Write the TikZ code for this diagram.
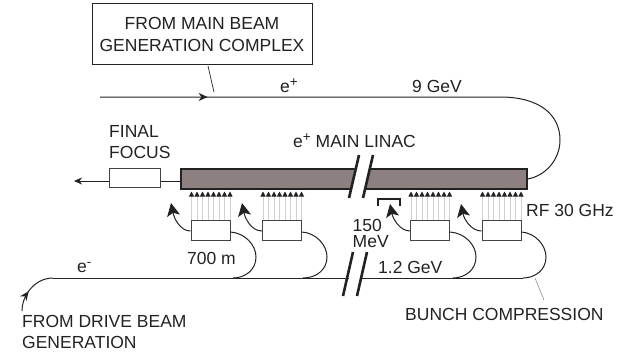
\documentclass[tikz,border=0pt]{standalone}
\usepackage{fontspec}
\setmainfont{Liberation Sans}
\usetikzlibrary{arrows.meta,decorations.markings}
\definecolor{ink}{HTML}{222222}
\definecolor{linac}{HTML}{8C8080}
\newcommand{\upmark}[1]{\raisebox{5.5pt}{\fontsize{13.5}{14}\selectfont #1}}
\tikzset{
  x=1pt,y=-1pt,
  every node/.style={text=ink,font=\fontsize{17.5}{22}\selectfont,inner sep=0pt},
  beam/.style={draw=ink,line width=1pt},
  thin leader/.style={draw=ink,line width=0.7pt},
  faint leader/.style={draw=gray,line width=0.5pt},
  boxed/.style={draw=ink!85,fill=white,line width=1pt,minimum height=20pt,minimum width=39pt},
  rf/.style={draw=black!18,line width=0.9pt,-{Triangle[length=5pt,width=5pt,ink]}},
  bend tip/.style={-{Stealth[length=13pt,width=13pt,inset=3pt,ink]},draw=ink,line width=1pt},
  slash/.style={draw=ink,line width=2.6pt},
  label/.style={anchor=base west,align=left},
}
\begin{document}
\begin{tikzpicture}
\useasboundingbox (0,0) rectangle (631,353);
% source box
\node[draw=ink,line width=1pt,fill=white,minimum width=220pt,minimum height=60pt,align=center] (src) at (202,34) {FROM MAIN BEAM\\GENERATION COMPLEX};
\coordinate (srcleadA) at (208,66);
\coordinate (srcleadB) at (214,92);
\draw[thin leader] (srcleadA) -- (srcleadB);
% linac
\node[draw=ink,fill=linac,line width=1.3pt,minimum width=346pt,minimum height=20pt] (linac) at (354,179) {};
% positron line
\coordinate (posA) at (100,97);
\coordinate (posB) at (500,97);
\coordinate (posC) at (560,140);
\draw[beam,postaction={decorate},decoration={markings,mark=at position 0.2 with {\arrow{Stealth[length=9pt,width=8pt,ink]}}}]
  (posA) -- (posB) .. controls (540,97) and (560,115) .. (posC) .. controls (560,160) and (545,176) .. (linac.east);
% final focus
\node[boxed,minimum width=51pt,minimum height=19pt] (ff) at (134.5,178) {};
\coordinate (ffout) at (74,181);
\draw[beam,-{Stealth[length=8pt,width=7pt,ink]}] (ff.west |- ffout) -- (ffout);
\draw[beam] (ff.east |- ffout) -- (linac.west |- ffout);
% rf boxes
\node[boxed] (k1) at (210.5,230) {};
\node[boxed] (k2) at (282,230) {};
\node[boxed] (k3) at (430,230) {};
\node[boxed] (k4) at (501.5,230) {};
\foreach \k in {k1,k2,k3,k4}{
  \foreach \d in {-19,-13.5,-8,-2.5,3,8.5,14,19.5}{
    \draw[rf] ([xshift=\d pt]\k.north) -- ([xshift=\d pt,yshift=28pt]\k.north);
  }
}
% tips
\coordinate (t1) at (171,203);
\coordinate (t2) at (242,203);
\coordinate (t3) at (390,204);
\coordinate (t4) at (461,204);
\draw[bend tip] (k1.west |- 0,231) .. controls (180,231) and (174,218) .. (t1);
\draw[bend tip] (k2.west |- 0,231) .. controls (251,231) and (245,218) .. (t2);
\draw[bend tip] (k3.west |- 0,231) .. controls (400,231) and (393,219) .. (t3);
\draw[bend tip] (k4.west |- 0,231) .. controls (471,231) and (464,219) .. (t4);
% return arcs
\coordinate (m1) at (233,278);
\coordinate (m2) at (303,278);
\coordinate (m3) at (453,278);
\coordinate (m4) at (523,278);
\draw[beam] (k1.east |- 0,232) .. controls (245,233) and (256,245) .. (256,257) .. controls (256,270) and (245,278) .. (m1);
\draw[beam] (k2.east |- 0,232) .. controls (316,233) and (327,245) .. (327,257) .. controls (327,270) and (316,278) .. (m2);
\draw[beam] (k3.east |- 0,232) .. controls (465,233) and (476,245) .. (476,257) .. controls (476,270) and (465,278) .. (m3);
\draw[beam] (k4.east |- 0,232) .. controls (535,233) and (546,245) .. (546,257) .. controls (546,270) and (535,278) .. (m4);
% main line
\coordinate (mainL) at (53,278);
\coordinate (mainEnd) at (22,311);
\draw[beam] (mainL) -- (349,278);
\draw[beam] (362,278) -- (m4);
\draw[beam,postaction={decorate},decoration={markings,mark=at position 0.42 with {\arrow{Stealth[length=9pt,width=8pt,ink]}}}]
  (mainEnd) .. controls (22,295) and (35,278) .. (mainL);
% break
\fill[white] (358,154) -- (373,154) -- (363,200) -- (348,200) -- cycle;
\coordinate (sa1) at (359,155); \coordinate (sa2) at (349,198);
\coordinate (sb1) at (373,155); \coordinate (sb2) at (363,198);
\draw[slash] (sa1) -- (sa2);
\draw[slash] (sb1) -- (sb2);
\coordinate (sc1) at (353,252); \coordinate (sc2) at (343,296);
\coordinate (sd1) at (367,252); \coordinate (sd2) at (357,296);
\draw[slash] (sc1) -- (sc2);
\draw[slash] (sd1) -- (sd2);
% bracket
\coordinate (brA) at (378,206);
\coordinate (brB) at (378,199);
\coordinate (brC) at (400,199);
\coordinate (brD) at (400,206);
\draw[draw=ink,line width=1.6pt] (brA) -- (brB) -- (brC) -- (brD);
% leader
\coordinate (bcA) at (535,278);
\coordinate (bcB) at (544,300);
\draw[faint leader] (bcA) -- (bcB);
% labels
\node[label] (tep) at (280,92) {e\upmark{+}};
\node[label] (t9) at (412,92) {9 GeV};
\node[label] (tfin) at (109,137) {FINAL};
\node[label] (tfoc) at (109,158) {FOCUS};
\node[label] (tlin) at (293,147) {e\upmark{+} MAIN LINAC};
\node[label] (trf) at (526,216) {RF 30 GHz};
\node[label,font=\fontsize{17.5}{16}\selectfont] (t150) at (352.5,247) {150\\MeV};
\node[label] (t12) at (378,273) {1.2 GeV};
\node[label] (t700) at (187,264) {700 m};
\node[label] (tem) at (77,272) {e\upmark{-}};
\node[label] (tfd) at (22,327) {FROM DRIVE BEAM};
\node[label] (tgen) at (22,348) {GENERATION};
\node[label] (tbc) at (405,320) {BUNCH COMPRESSION};
\end{tikzpicture}
\end{document}
